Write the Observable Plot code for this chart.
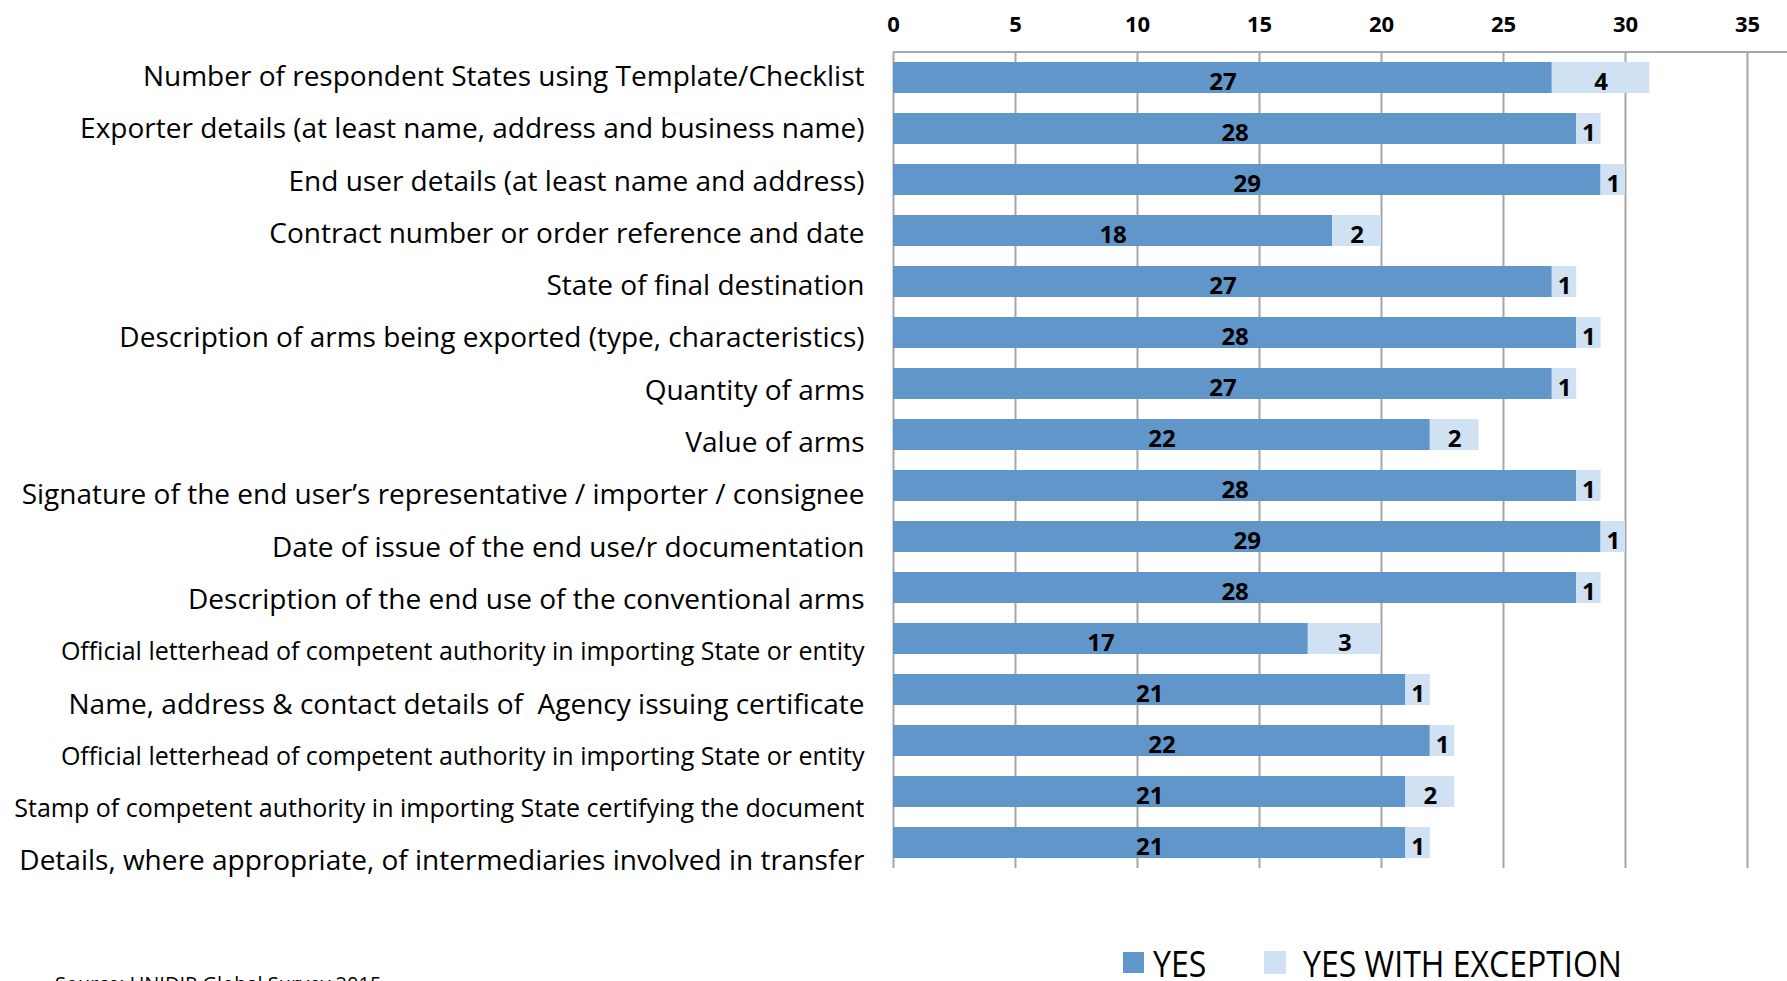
<!DOCTYPE html>
<html>
<head>
<meta charset="utf-8">
<script src="https://cdn.jsdelivr.net/npm/d3@7"></script>
<script src="https://cdn.jsdelivr.net/npm/@observablehq/plot@0.6"></script>
<style>
  html, body { margin: 0; padding: 0; background: #fff; overflow: hidden; }
  #wrap { position: relative; width: 1787px; height: 981px; overflow: hidden; font-family: "Open Sans", sans-serif; }
  #chart svg { display: block; }
  .sw { position: absolute; }
  .lg { position: absolute; font-size: 36px; line-height: 30px; color: #000; white-space: nowrap;
        transform: scaleX(0.89); transform-origin: 0 0; }
  .src { position: absolute; font-size: 20px; line-height: 20px; color: #000; white-space: nowrap; }
</style>
</head>
<body>
<div id="wrap">
  <div id="chart"></div>
  <div id="legend"></div>
</div>
<script>
const categories = [
  "Number of respondent States using Template/Checklist",
  "Exporter details (at least name, address and business name)",
  "End user details (at least name and address)",
  "Contract number or order reference and date",
  "State of final destination",
  "Description of arms being exported (type, characteristics)",
  "Quantity of arms",
  "Value of arms",
  "Signature of the end user\u2019s representative / importer / consignee",
  "Date of issue of the end use/r documentation",
  "Description of the end use of the conventional arms",
  "Official letterhead of competent authority in importing State or entity",
  "Name, address & contact details of \u00a0Agency issuing certificate",
  "Official letterhead of competent authority in importing State or entity",
  "Stamp of competent authority in importing State certifying the document",
  "Details, where appropriate, of intermediaries involved in transfer"
];
const yesValues =       [27, 28, 29, 18, 27, 28, 27, 22, 28, 29, 28, 17, 21, 22, 21, 21];
const exceptionValues = [ 4,  1,  1,  2,  1,  1,  1,  2,  1,  1,  1,  3,  1,  1,  2,  1];
const seriesNames = ["YES", "YES WITH EXCEPTION"];
const xTicks = [0, 5, 10, 15, 20, 25, 30, 35];
const sourceText = "Source: UNIDIR Global Survey 2015";

// styling
const colors = ["#6096c9", "#d0e1f3"];
const smallLabelRows = new Set([11, 13, 14]);
const gridColor = "#a6a6a6";

const rows = categories.map((label, i) => ({key: i, label}));
const data = categories.flatMap((c, i) => [
  {key: i, type: seriesNames[0], value: yesValues[i]},
  {key: i, type: seriesNames[1], value: exceptionValues[i]}
]);

const W = 1787, H = 900, mL = 893, mT = 52, mB = 32;

// category labels drift slightly downward in the original layout
const labelMarks = rows.map(r => Plot.text([r], {
  x: 0, y: "key", text: "label", textAnchor: "end", dx: -29, dy: -1 + r.key * 1.3,
  fill: "black", fontSize: smallLabelRows.has(r.key) ? 25 : 28
}));

const chart = Plot.plot({
  width: W, height: H,
  marginTop: mT, marginBottom: mB, marginLeft: mL, marginRight: 0,
  style: {fontFamily: "Open Sans", background: "white", overflow: "visible"},
  x: {domain: [0, 36.64], axis: null},
  y: {domain: d3.range(categories.length), paddingInner: 0.4, paddingOuter: 0.2, axis: null},
  color: {domain: seriesNames, range: colors},
  marks: [
    Plot.ruleX(xTicks, {stroke: gridColor, strokeWidth: 2}),
    Plot.barX(data, {x: "value", y: "key", fill: "type"}),
    Plot.text(data, Plot.stackX({x: "value", y: "key", z: "type", text: "value",
      fill: "black", fontSize: 24, fontWeight: "bold", dy: 4})),
    ...labelMarks,
    Plot.axisX(xTicks, {anchor: "top", tickSize: 0, tickPadding: 21, fontSize: 22,
      fontWeight: "bold", label: null, fill: "black"})
  ]
});

const svg = d3.select(chart);
svg.selectAll("g[aria-label='x-axis tick label'] text").attr("font-weight", "bold");
svg.select("g[aria-label='x-axis tick label']").attr("font-weight", "bold").attr("fill", "black");
const xs = chart.scale("x");
svg.append("line")
  .attr("x1", xs.apply(0)).attr("x2", W)
  .attr("y1", mT).attr("y2", mT)
  .attr("stroke", gridColor).attr("stroke-width", 2);

document.getElementById("chart").appendChild(chart);

const legend = d3.select("#legend");
const legendItems = [
  {name: seriesNames[0], color: colors[0], sx: 1123, sy: 952, sw: 21, sh: 21, tx: 1153},
  {name: seriesNames[1], color: colors[1], sx: 1264, sy: 951, sw: 22, sh: 23, tx: 1303}
];
for (const it of legendItems) {
  legend.append("div").attr("class", "sw")
    .style("left", it.sx + "px").style("top", it.sy + "px")
    .style("width", it.sw + "px").style("height", it.sh + "px")
    .style("background", it.color);
  legend.append("div").attr("class", "lg")
    .style("left", it.tx + "px").style("top", "949px").text(it.name);
}
legend.append("div").attr("class", "src")
  .style("left", "55px").style("top", "974px").text(sourceText);
</script>
</body>
</html>
